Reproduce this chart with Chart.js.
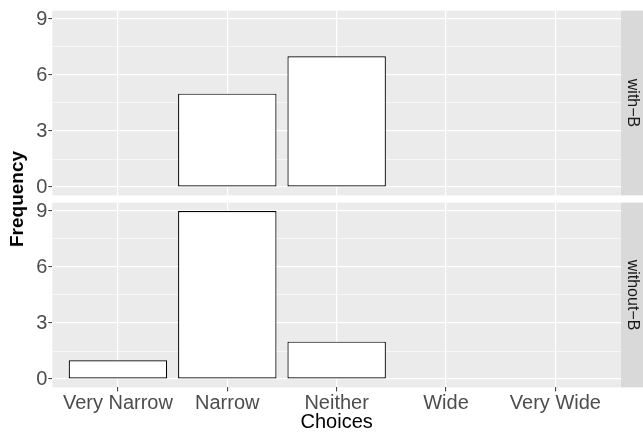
<!DOCTYPE html>
<html>
<head>
<meta charset="utf-8">
<script src="https://cdn.jsdelivr.net/npm/chart.js@4.4.1/dist/chart.umd.min.js"></script>
<style>
  html, body { margin: 0; padding: 0; background: #fff; }
  #wrap { position: relative; width: 643px; height: 435px; overflow: hidden; }
  #wrap canvas { position: absolute; left: 0; }
  #ytitle {
    position: absolute; left: 17px; top: 199px;
    transform: translate(-50%, -50%) rotate(-90deg);
    font: bold 19px "Liberation Sans", Arial, sans-serif; color: #000; white-space: nowrap;
  }
</style>
</head>
<body>
<div id="wrap">
  <canvas id="topChart" width="643" height="199" style="top:0"></canvas>
  <canvas id="bottomChart" width="643" height="236" style="top:199px"></canvas>
  <div id="ytitle">Frequency</div>
</div>
<script>
// datos
const categories = ['Very Narrow', 'Narrow', 'Neither', 'Wide', 'Very Wide'];
const withB = [0, 5, 7, 0, 0];
const withoutB = [1, 9, 2, 0, 0];
const yMajor = [0, 3, 6, 9];
const yMinor = [1.5, 4.5, 7.5];
const panelNames = ['with\u2212B', 'without\u2212B'];

const FONT = '"Liberation Sans", Arial, sans-serif';

// fondo gris del panel y la franja de la derecha
const panelPlugin = {
  id: 'panel',
  beforeDraw(chart, args, opts) {
    const a = chart.chartArea;
    const ctx = chart.ctx;
    ctx.save();
    ctx.fillStyle = '#EBEBEB';
    ctx.fillRect(a.left, a.top, a.right - a.left, a.bottom - a.top);
    ctx.restore();
  },
  afterDraw(chart, args, opts) {
    const a = chart.chartArea;
    const ctx = chart.ctx;
    ctx.save();
    ctx.fillStyle = '#D9D9D9';
    ctx.fillRect(a.right, a.top, chart.width - a.right, a.bottom - a.top);
    ctx.translate((a.right + chart.width) / 2, (a.top + a.bottom) / 2);
    ctx.rotate(Math.PI / 2);
    ctx.fillStyle = '#1A1A1A';
    ctx.font = '16px ' + FONT;
    ctx.textAlign = 'center';
    ctx.textBaseline = 'middle';
    ctx.fillText(opts.label, 0, 0);
    ctx.restore();
  }
};

function makeChart(id, values, label, isBottom) {
  const ctx = document.getElementById(id);
  return new Chart(ctx, {
    type: 'bar',
    data: {
      datasets: [{
        data: values.map((v, i) => ({ x: i, y: v })),
        backgroundColor: '#FFFFFF',
        borderColor: '#000000',
        borderWidth: 1.2,
        borderSkipped: false,
        barPercentage: 0.9,
        categoryPercentage: 1
      }]
    },
    options: {
      responsive: false,
      animation: false,
      layout: {
        padding: isBottom
          ? { left: 0, right: 22, top: 3.6, bottom: 0 }
          : { left: 0, right: 22, top: 10.6, bottom: 3.6 }
      },
      plugins: {
        legend: { display: false },
        tooltip: { enabled: false },
        panel: { label: label }
      },
      scales: {
        x: {
          type: 'linear',
          offset: false,
          min: -0.6,
          max: 4.6,
          afterBuildTicks: s => { s.ticks = categories.map((c, i) => ({ value: i })); },
          afterFit: s => {
            s.height = isBottom ? 47.6 : 0;
            s.paddingLeft = 0; s.paddingRight = 0;
          },
          border: { display: false },
          grid: {
            offset: false,
            color: '#FFFFFF',
            lineWidth: 1.2,
            drawTicks: isBottom,
            tickLength: 4,
            tickColor: '#333333',
            tickWidth: 1
          },
          ticks: {
            display: isBottom,
            autoSkip: false,
            maxRotation: 0,
            padding: 0,
            color: '#4D4D4D',
            font: { family: FONT, size: 20 },
            callback: v => categories[v]
          },
          title: {
            display: isBottom,
            text: 'Choices',
            color: '#000000',
            font: { family: FONT, size: 20 },
            padding: { top: 0, bottom: 1 }
          }
        },
        y: {
          min: -0.45,
          max: 9.45,
          afterBuildTicks: s => {
            s.ticks = yMajor.concat(yMinor).sort((a, b) => a - b).map(v => ({ value: v }));
          },
          afterFit: s => {
            s.width = 52.3;
            s.paddingTop = 0; s.paddingBottom = 0;
          },
          border: { display: false },
          grid: {
            color: '#FFFFFF',
            lineWidth: c => yMajor.includes(c.tick.value) ? 1.2 : 0.6,
            tickLength: 4,
            tickColor: c => yMajor.includes(c.tick.value) ? '#333333' : 'rgba(0,0,0,0)',
            tickWidth: 1
          },
          ticks: {
            padding: 1,
            color: '#4D4D4D',
            font: { family: FONT, size: 20 },
            callback: v => yMajor.includes(v) ? String(v) : ''
          }
        }
      }
    },
    plugins: [panelPlugin]
  });
}

makeChart('topChart', withB, panelNames[0], false);
makeChart('bottomChart', withoutB, panelNames[1], true);
</script>
</body>
</html>
